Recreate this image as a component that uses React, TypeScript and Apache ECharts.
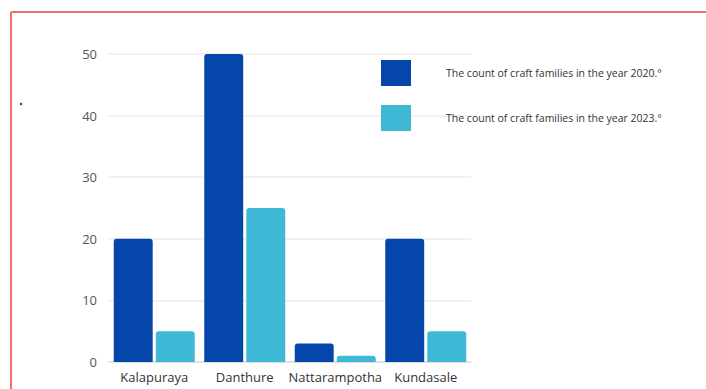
import React, { useEffect, useRef } from "react";
import * as echarts from "echarts";

const categories = ["Kalapuraya", "Danthure", "Nattarampotha", "Kundasale"];
const series2020 = [20, 50, 3, 20];
const series2023 = [5, 25, 1, 5];
const seriesNames = [
  "The count of craft families in the year 2020.°",
  "The count of craft families in the year 2023.°",
];
const yTicks = { min: 0, max: 50, interval: 10 };

export default function App() {
  const ref = useRef<HTMLDivElement>(null);
  useEffect(() => {
    if (!ref.current) return;
    const chart = echarts.init(ref.current, null, { renderer: "svg" });
    chart.setOption({
      animation: false,
      backgroundColor: "#ffffff",
      textStyle: { fontFamily: "Open Sans" },
      grid: { left: 109, right: 235, top: 54, bottom: 27, containLabel: false },
      legend: {
        orient: "vertical",
        left: 376,
        top: 55,
        itemWidth: 30,
        itemHeight: 26,
        itemGap: 19,
        icon: "rect",
        textStyle: { fontSize: 10.5, color: "#333", padding: [0, 0, 0, 30], fontFamily: "Open Sans" },
        data: [
          { name: seriesNames[0] },
          { name: seriesNames[1], textStyle: { padding: [10, 0, 0, 30] } },
        ],
      },
      xAxis: {
        type: "category",
        data: categories,
        axisLine: { show: true, lineStyle: { color: "#dcdcdc", width: 1.5 } },
        axisTick: { show: false },
        axisLabel: { color: "#333", fontSize: 13, margin: 8, interval: 0 },
      },
      yAxis: {
        type: "value",
        min: yTicks.min,
        max: yTicks.max,
        interval: yTicks.interval,
        axisLine: { show: false },
        axisTick: { show: false },
        axisLabel: { color: "#555", fontSize: 13, margin: 12 },
        splitLine: { lineStyle: { color: "#ececec", width: 1.5 } },
      },
      series: [
        {
          name: seriesNames[0],
          type: "bar",
          data: series2020,
          barGap: "8%",
          barCategoryGap: "10.5%",
          itemStyle: { color: "#0546ab", borderRadius: [3, 3, 0, 0] },
        },
        {
          name: seriesNames[1],
          type: "bar",
          data: series2023,
          itemStyle: { color: "#3fb8d5", borderRadius: [3, 3, 0, 0] },
        },
      ],
      graphic: [
        { type: "line", shape: { x1: 11, y1: 12, x2: 706, y2: 12 }, style: { stroke: "#f06e72", lineWidth: 2 } },
        { type: "line", shape: { x1: 11, y1: 12, x2: 11, y2: 389 }, style: { stroke: "#f06e72", lineWidth: 2 } },
        { type: "circle", shape: { cx: 21, cy: 104, r: 1.3 }, style: { fill: "#555" } },
      ],
    });
    return () => chart.dispose();
  }, []);
  return <div ref={ref} style={{ position: "absolute", left: 0, top: 0, width: 706, height: 389 }} />;
}
